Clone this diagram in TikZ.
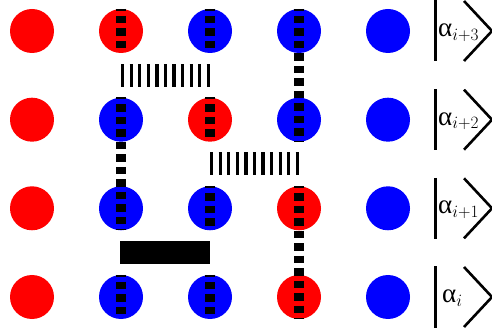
\documentclass[tikz,border=0pt]{standalone}
\usepackage{fontspec}
\newfontfamily\greekserif{Liberation Serif}
\usetikzlibrary{calc}
\definecolor{pred}{RGB}{255,0,0}
\definecolor{pblue}{RGB}{0,0,255}
\begin{document}
\begin{tikzpicture}[x=1pt,y=-1pt,
  dot/.style={circle,inner sep=0pt,minimum size=44pt,draw=none},
  rdot/.style={dot,fill=pred},
  bdot/.style={dot,fill=pblue},
  vdash/.style={line width=10pt,dash pattern=on 7.5pt off 5pt,dash phase=5.5pt},
  ladder/.style={line width=23pt,dash pattern=on 3.3pt off 5.27pt},
  solidbar/.style={line width=23pt},
  ketbar/.style={line width=3pt},
  ketang/.style={line width=2.6pt,line join=miter},
  kettext/.style={inner sep=0pt,anchor=base west,font=\fontsize{24}{28}\selectfont}]
\useasboundingbox (0,0) rectangle (492,328);
% row 1
\node[rdot] (c11) at (32,31) {};
\node[rdot] (c12) at (121,31) {};
\node[bdot] (c13) at (210,31) {};
\node[bdot] (c14) at (299,31) {};
\node[bdot] (c15) at (388,31) {};
% row 2
\node[rdot] (c21) at (32,119.7) {};
\node[bdot] (c22) at (121,119.7) {};
\node[rdot] (c23) at (210,119.7) {};
\node[bdot] (c24) at (299,119.7) {};
\node[bdot] (c25) at (388,119.7) {};
% row 3
\node[rdot] (c31) at (32,208.3) {};
\node[bdot] (c32) at (121,208.3) {};
\node[bdot] (c33) at (210,208.3) {};
\node[rdot] (c34) at (299,208.3) {};
\node[bdot] (c35) at (388,208.3) {};
% row 4
\node[rdot] (c41) at (32,297) {};
\node[bdot] (c42) at (121,297) {};
\node[bdot] (c43) at (210,297) {};
\node[rdot] (c44) at (299,297) {};
\node[bdot] (c45) at (388,297) {};
% vertical dashed lines
\draw[vdash] (c12.north) -- (c12.south);
\draw[vdash] (c13.north) -- (c13.south);
\draw[vdash] (c14.north) -- (c24.south);
\draw[vdash] (c22.north) -- (c32.south);
\draw[vdash] (c23.north) -- (c23.south);
\draw[vdash] (c33.north) -- (c33.south);
\draw[vdash] (c34.north) -- (c44.south);
\draw[vdash] (c42.north) -- (c42.south);
\draw[vdash] (c43.north) -- (c43.south);
% ladders
\draw[ladder] ($(c12)!0.5!(c22)$) -- ($(c13)!0.5!(c23)$);
\draw[ladder] ($(c23)!0.5!(c33)$) -- ($(c24)!0.5!(c34)$);
\draw[solidbar] ($(c32)!0.5!(c42)+(-1,0)$) -- ($(c33)!0.5!(c43)$);
% kets
\foreach \y/\lab/\tx in {31/{i+3}/438, 119.7/{i+2}/438, 208.3/{i+1}/438, 297/{i}/442}{
  \coordinate (kt) at (435.5,\y-30.5);
  \coordinate (kb) at (435.5,\y+30.5);
  \draw[ketbar] (kt) -- (kb);
  \coordinate (at) at (464,\y-30);
  \coordinate (ap) at (492,\y);
  \coordinate (ab) at (464,\y+30);
  \draw[ketang] (at) -- (ap) -- (ab);
  \node[kettext] (k) at (\tx,\y+5.5) {{\greekserif\fontsize{27}{30}\selectfont α}$_{\lab}$};
}
\end{tikzpicture}
\end{document}
